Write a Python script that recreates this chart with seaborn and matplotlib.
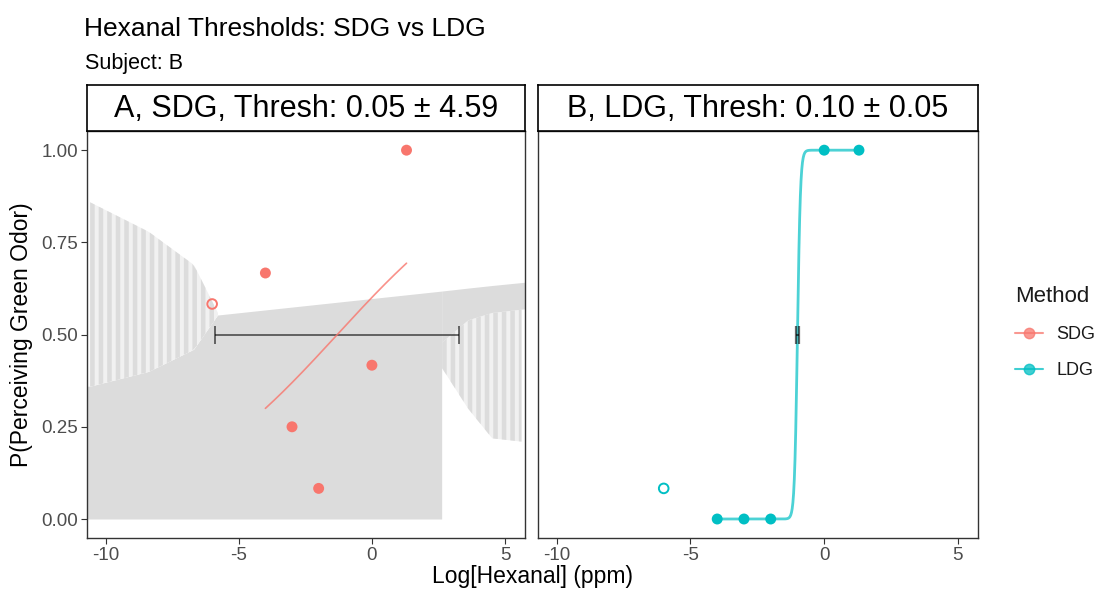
import numpy as np
import pandas as pd
import matplotlib
matplotlib.use("Agg")
import matplotlib.pyplot as plt
from matplotlib.lines import Line2D
import seaborn as sns

# ---- data -------------------------------------------------------------
log_conc = [-6.0, -4.0, -3.0, -2.0, 0.0, 1.3]
sdg_prop = [0.583, 0.667, 0.250, 0.083, 0.417, 1.000]
ldg_prop = [0.083, 0.000, 0.000, 0.000, 1.000, 1.000]
excluded = [True, False, False, False, False, False]

methods = ["SDG", "LDG"]
panel_ids = ["A", "B"]
palette = {"SDG": "#F8766D", "LDG": "#00BFC4"}

# logistic fits: threshold (ppm), its SD on the log axis, slope
thresh_ppm = [0.05, 0.10]
thresh_sd = [4.59, 0.05]
slopes = [0.314, 18.0]
fit_range = [-4.0, 1.3]

# confidence band of the SDG fit
solid_x = [-10.7, -10.6, -8.4, -6.7, -5.8, 2.62]
solid_hi = [0.36, 0.36, 0.40, 0.46, 0.553, 0.618]
left_x = [-10.6, -8.4, -6.7, -5.8]
left_hi = [0.86, 0.78, 0.69, 0.56]
left_lo = [0.36, 0.40, 0.46, 0.553]
right_x = [2.62, 3.6, 4.5, 5.75]
right_hi = [0.618, 0.626, 0.633, 0.642]
right_solid_lo = [0.48, 0.54, 0.56, 0.57]
right_stripe_lo = [0.41, 0.30, 0.22, 0.21]

x_ticks = [-10, -5, 0, 5]
y_ticks = [0.0, 0.25, 0.50, 0.75, 1.00]

# ---- style ------------------------------------------------------------
sns.set_theme(style="white")
plt.rcParams["font.family"] = ["Liberation Sans", "DejaVu Sans"]
plt.rcParams["axes.unicode_minus"] = False

W, H = 1100, 590
fig = plt.figure(figsize=(W / 100, H / 100), dpi=100)


def fx(px):
    return px / W


def fy(py):
    return 1 - py / H


band_col = "#dcdcdc"


def stripes(ax, xs, lo, hi, x0, x1, period=0.32, width=0.17):
    grid = np.linspace(x0, x1, 50)
    ax.fill_between(grid, np.interp(grid, xs, lo), np.interp(grid, xs, hi),
                    color="#f1f1f1", lw=0, zorder=1)
    for s in np.arange(x0, x1, period):
        xx = np.array([s, min(s + width, x1)])
        ax.fill_between(xx, np.interp(xx, xs, lo), np.interp(xx, xs, hi),
                        color=band_col, lw=0, zorder=1.2)


panel_top, panel_bot = 131, 538
lefts = [87, 538]
rights = [525, 978]
xlim = (-10.7, 5.75)
ylim = (-0.0515, 1.052)

props = {"SDG": sdg_prop, "LDG": ldg_prop}

for i, m in enumerate(methods):
    ax = fig.add_axes([fx(lefts[i]), fy(panel_bot), fx(rights[i] - lefts[i]),
                       (panel_bot - panel_top) / H])
    col = palette[m]
    df = pd.DataFrame({"x": log_conc, "p": props[m], "excl": excluded,
                       "Method": m})

    if m == "SDG":
        ax.fill_between(solid_x, 0, solid_hi, color=band_col, lw=0, zorder=1)
        stripes(ax, left_x, left_lo, left_hi, -10.6, -5.8)
        ax.fill_between(right_x, right_solid_lo, right_hi, color=band_col,
                        lw=0, zorder=1.1)
        stripes(ax, right_x, right_stripe_lo, right_solid_lo, 2.62, 5.6)

    # fitted logistic curve
    t_log = np.log10(thresh_ppm[i])
    xg = np.linspace(fit_range[0], fit_range[1], 400)
    curve = pd.DataFrame({"x": xg,
                          "p": 1 / (1 + np.exp(-slopes[i] * (xg - t_log)))})
    if m == "SDG":
        sns.lineplot(data=curve, x="x", y="p", ax=ax, color=col, lw=1.2,
                     alpha=0.8, zorder=3)
        ax.errorbar(t_log, 0.5, xerr=thresh_sd[i], color="black", alpha=0.6,
                    elinewidth=1.3, capsize=6.5, capthick=1.3, zorder=2.5)
    else:
        sns.lineplot(data=curve, x="x", y="p", ax=ax, color=col, lw=2.0,
                     alpha=0.7, zorder=3)
        ax.errorbar(t_log, 0.5, xerr=thresh_sd[i], color="black", alpha=0.6,
                    elinewidth=1.5, capsize=6.5, capthick=1.6, zorder=3.5)

    # observed proportions
    sns.scatterplot(data=df[~df["excl"]], x="x", y="p", ax=ax, color=col,
                    s=62, edgecolor="none", zorder=4)
    sns.scatterplot(data=df[df["excl"]], x="x", y="p", ax=ax,
                    facecolor="none", edgecolor=col, linewidth=1.4, s=48,
                    zorder=4)

    ax.set_xlim(*xlim)
    ax.set_ylim(*ylim)
    ax.set_xticks(x_ticks)
    ax.set_xticklabels([str(v) for v in x_ticks])
    ax.set_xlabel("")
    ax.set_ylabel("")
    ax.tick_params(axis="both", which="both", direction="out", length=4.5,
                   width=0.8, color="#333333", labelcolor="#4d4d4d",
                   labelsize=13.5, pad=2, bottom=True, left=(i == 0))
    ax.set_yticks(y_ticks)
    if i == 0:
        ax.set_yticklabels([f"{v:.2f}" for v in y_ticks])
    else:
        ax.set_yticklabels([])
    for sp in ax.spines.values():
        sp.set_color("#333333")
        sp.set_linewidth(1.0)
    ax.set_facecolor("white")
    ax.grid(False)

    # facet strip
    sax = fig.add_axes([fx(lefts[i]), fy(panel_top), fx(rights[i] - lefts[i]),
                        46 / H])
    sax.set_xticks([])
    sax.set_yticks([])
    sax.set_facecolor("white")
    for sp in sax.spines.values():
        sp.set_color("black")
        sp.set_linewidth(1.2)
    sax.text(0.5, 0.47,
             f"{panel_ids[i]}, {m}, Thresh: {thresh_ppm[i]:.2f} \u00b1 {thresh_sd[i]:.2f}",
             ha="center", va="center", fontsize=22, color="black",
             transform=sax.transAxes)

fig.text(fx(84), fy(36), "Hexanal Thresholds: SDG vs LDG", fontsize=19,
         ha="left", va="baseline", color="black")
fig.text(fx(85), fy(69), "Subject: B", fontsize=15.5, ha="left",
         va="baseline", color="black")
fig.text(fx(532), fy(583), "Log[Hexanal] (ppm)", fontsize=16.5, ha="center",
         va="baseline", color="black")
fig.text(fx(22), fy(334.5), "P(Perceiving Green Odor)", fontsize=16.5,
         rotation=90, ha="center", va="center", color="black")

handles = [Line2D([0], [0], color=palette[m], lw=1.5, alpha=0.75, marker="o",
                  markersize=7.5, markerfacecolor=palette[m],
                  markeredgecolor=palette[m]) for m in methods]
leg = fig.legend(handles, methods, title="Method", loc="upper left",
                 bbox_to_anchor=(fx(1015), fy(286)), frameon=False,
                 fontsize=13, title_fontsize=16, handlelength=1.55,
                 handletextpad=0.75, labelspacing=1.05, borderpad=0,
                 borderaxespad=0, alignment="left")
leg.get_title().set_color("#1a1a1a")
for t in leg.get_texts():
    t.set_color("#1a1a1a")

fig.savefig("out.png", dpi=100)
